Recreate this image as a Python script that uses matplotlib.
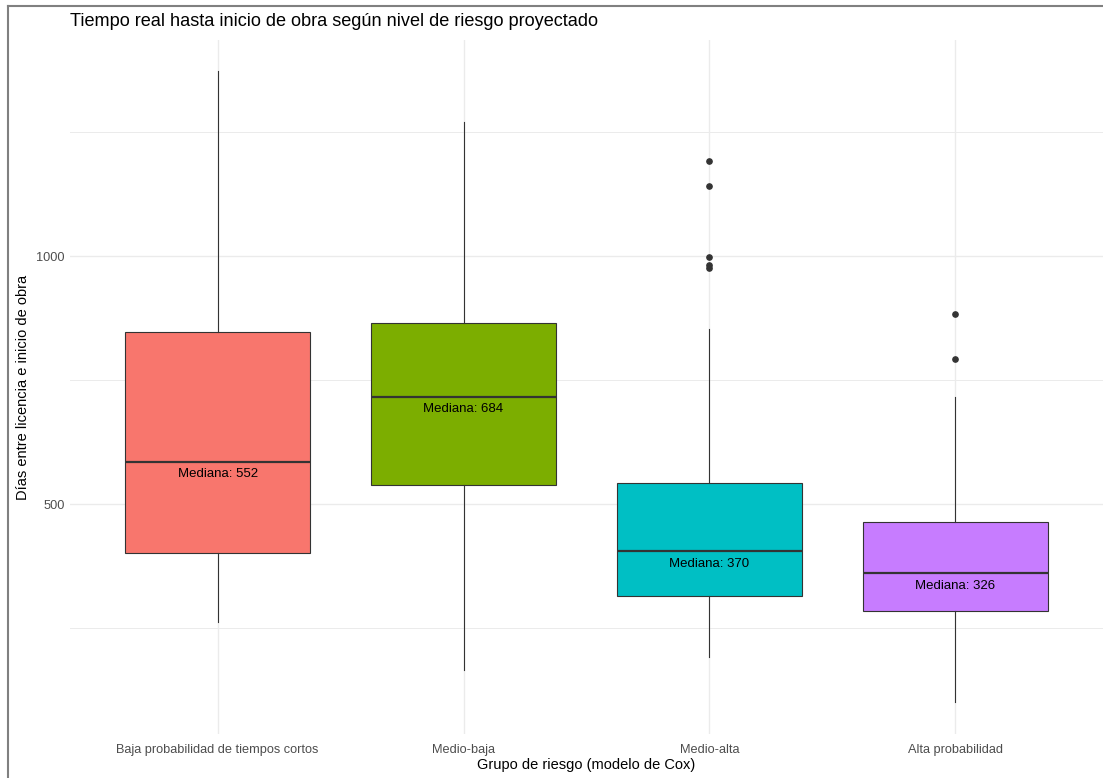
import matplotlib.pyplot as plt
from matplotlib.lines import Line2D

plt.rcParams['font.family'] = ['Liberation Sans', 'DejaVu Sans']

# Grupos de riesgo del modelo de Cox
grupos = ['Baja probabilidad de tiempos cortos', 'Medio-baja', 'Medio-alta', 'Alta probabilidad']
colores = ['#F8766D', '#7CAE00', '#00BFC4', '#C77CFF']

# Estadisticos de cada caja (dias)
q1 = [401, 538, 315, 284]
medianas = [585, 716, 405, 361]
q3 = [847, 865, 542, 464]
bigote_inf = [262, 165, 192, 101]
bigote_sup = [1373, 1270, 853, 715]
atipicos = [[], [], [1192, 1141, 997, 981, 975], [883, 793]]

# Mediana informada en la etiqueta
mediana_etiqueta = [552, 684, 370, 326]

W, H = 1103, 778
fig = plt.figure(figsize=(W / 100, H / 100), dpi=100)
ax = fig.add_axes([70 / W, 1 - 734 / H, 1 - 70 / W, 694 / H])

stats = []
for i in range(len(grupos)):
    stats.append(dict(med=medianas[i], q1=q1[i], q3=q3[i],
                      whislo=bigote_inf[i], whishi=bigote_sup[i],
                      fliers=atipicos[i]))

bp = ax.bxp(stats, positions=range(1, 5), widths=0.75, patch_artist=True,
            showcaps=False,
            boxprops=dict(edgecolor='#333333', linewidth=0.8),
            whiskerprops=dict(color='#333333', linewidth=0.8),
            medianprops=dict(color='#333333', linewidth=1.6),
            flierprops=dict(marker='o', markerfacecolor='#333333',
                            markeredgecolor='#333333', markersize=3.8))
for patch, c in zip(bp['boxes'], colores):
    patch.set_facecolor(c)

for i, m in enumerate(mediana_etiqueta):
    ax.annotate(f'Mediana: {m}', (i + 1, m), xytext=(0, 3),
                textcoords='offset points', ha='center', va='center',
                fontsize=9.5, color='black')

ax.set_xlim(0.4, 4.6)
ax.set_ylim(36.3, 1435.5)
ax.set_xticks(range(1, 5))
ax.set_xticklabels(grupos)
ax.set_yticks([500, 1000])
ax.set_yticks([250, 750, 1250], minor=True)
ax.tick_params(axis='both', which='both', length=0, colors='#4D4D4D', labelsize=9.2)
ax.tick_params(axis='x', pad=7)
ax.tick_params(axis='y', pad=4)

ax.grid(True, which='major', color='#EBEBEB', linewidth=1.0)
ax.grid(True, which='minor', axis='y', color='#EBEBEB', linewidth=0.7)
ax.set_axisbelow(True)
for s in ax.spines.values():
    s.set_visible(False)

ax.set_xlabel('Grupo de riesgo (modelo de Cox)', fontsize=10.5, labelpad=2)
ax.set_ylabel('Días entre licencia e inicio de obra', fontsize=10.5, labelpad=4)
fig.text(70 / W, 1 - 22 / H, 'Tiempo real hasta inicio de obra según nivel de riesgo proyectado',
         ha='left', va='center', fontsize=13.1)

# marco gris de la captura
fig.add_artist(Line2D([7.5 / W, 1.01], [1 - 5.5 / H, 1 - 5.5 / H], color='#808080', linewidth=1.5))
fig.add_artist(Line2D([7.5 / W, 7.5 / W], [-0.01, 1 - 5.5 / H], color='#808080', linewidth=1.5))

fig.savefig('out.png', dpi=100)
